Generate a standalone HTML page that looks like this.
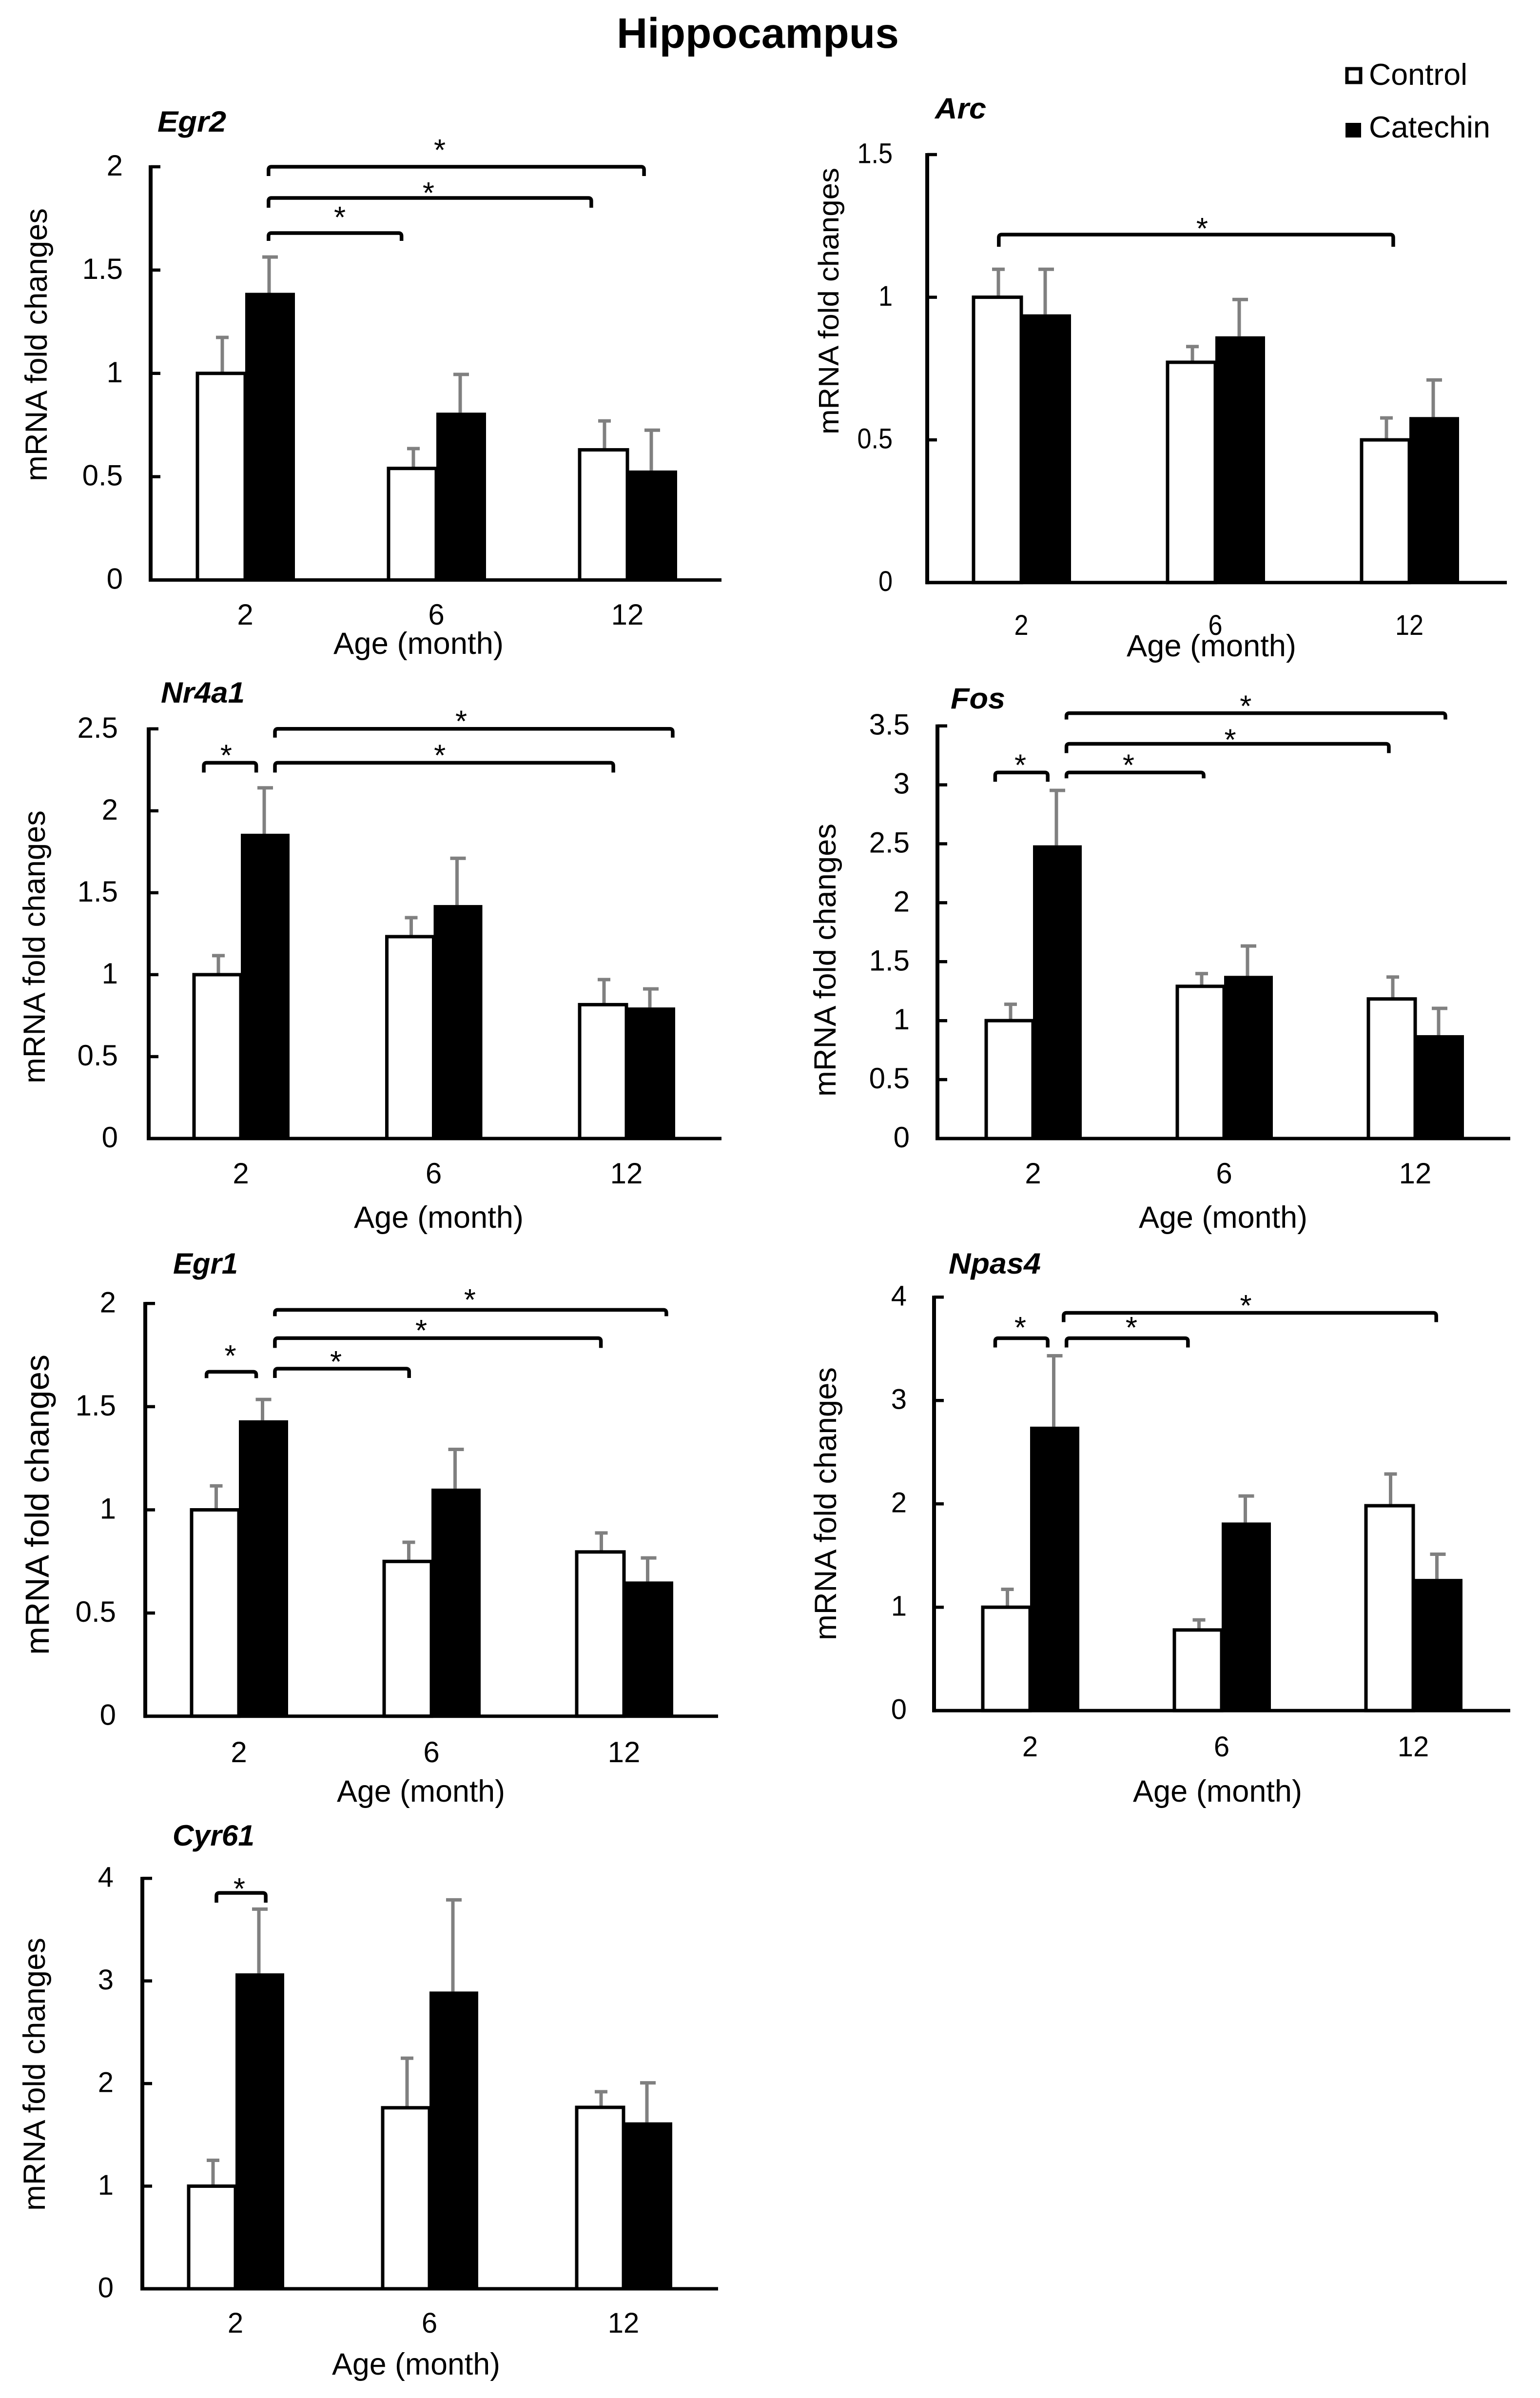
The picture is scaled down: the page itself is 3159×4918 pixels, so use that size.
<!DOCTYPE html>
<html lang="en">
<head>
<meta charset="utf-8">
<title>Hippocampus mRNA fold changes</title>
<style>
html,body{margin:0;padding:0;background:#fff;}
svg{display:block;font-family:"Liberation Sans",Arial,sans-serif;}
</style>
</head>
<body>
<svg id="figure" xmlns="http://www.w3.org/2000/svg" width="3159" height="4918" viewBox="0 0 3159 4918">
  <rect x="0" y="0" width="3159" height="4918" fill="#fff"/>
  <text x="1265" y="98" font-size="87" font-weight="bold" textLength="579" lengthAdjust="spacingAndGlyphs">Hippocampus</text>
  <g>
    <rect x="2763" y="141" width="28" height="28" fill="#fff" stroke="#000" stroke-width="7"/>
    <text x="2808" y="174" font-size="62" textLength="202" lengthAdjust="spacingAndGlyphs">Control</text>
    <rect x="2760" y="252" width="32" height="30" fill="#000"/>
    <text x="2808" y="282" font-size="62" textLength="249" lengthAdjust="spacingAndGlyphs">Catechin</text>
  </g>
</svg>
<script>
// ---- shared categories ----
const months = ['2', '6', '12'];

// ---- Egr2 ----
const egr2Control = [1, 0.54, 0.63];
const egr2ControlErr = [0.174, 0.096, 0.14];
const egr2Catechin = [1.39, 0.81, 0.53];
const egr2CatechinErr = [0.173, 0.185, 0.195];
const egr2Ticks = ['0', '0.5', '1', '1.5', '2'];

// ---- Arc ----
const arcControl = [1, 0.772, 0.5];
const arcControlErr = [0.098, 0.055, 0.077];
const arcCatechin = [0.94, 0.863, 0.58];
const arcCatechinErr = [0.158, 0.129, 0.13];
const arcTicks = ['0', '0.5', '1', '1.5'];

// ---- Nr4a1 ----
const nr4a1Control = [1, 1.232, 0.817];
const nr4a1ControlErr = [0.116, 0.116, 0.153];
const nr4a1Catechin = [1.86, 1.425, 0.8];
const nr4a1CatechinErr = [0.28, 0.285, 0.113];
const nr4a1Ticks = ['0', '0.5', '1', '1.5', '2', '2.5'];

// ---- Fos ----
const fosControl = [1, 1.291, 1.184];
const fosControlErr = [0.139, 0.108, 0.186];
const fosCatechin = [2.487, 1.38, 0.877];
const fosCatechinErr = [0.466, 0.253, 0.227];
const fosTicks = ['0', '0.5', '1', '1.5', '2', '2.5', '3', '3.5'];

// ---- Egr1 ----
const egr1Control = [1, 0.75, 0.796];
const egr1ControlErr = [0.116, 0.093, 0.092];
const egr1Catechin = [1.434, 1.103, 0.653];
const egr1CatechinErr = [0.101, 0.19, 0.114];
const egr1Ticks = ['0', '0.5', '1', '1.5', '2'];

// ---- Npas4 ----
const npas4Control = [1, 0.78, 1.982];
const npas4ControlErr = [0.173, 0.097, 0.307];
const npas4Catechin = [2.747, 1.82, 1.274];
const npas4CatechinErr = [0.686, 0.256, 0.239];
const npas4Ticks = ['0', '1', '2', '3', '4'];

// ---- Cyr61 ----
const cyr61Control = [1, 1.764, 1.768];
const cyr61ControlErr = [0.252, 0.483, 0.152];
const cyr61Catechin = [3.074, 2.897, 1.622];
const cyr61CatechinErr = [0.626, 0.893, 0.385];
const cyr61Ticks = ['0', '1', '2', '3', '4'];

// ---- significance brackets, in axis units (category position, value) ----
const egr2Brackets = [
  {x1: 0.122, x2: 2.087, y: 2, drop: 19, sx: 1.018, sy: 2.101},
  {x1: 0.122, x2: 1.811, y: 1.849, drop: 20, sx: 0.959, sy: 1.894},
  {x1: 0.122, x2: 0.818, y: 1.679, drop: 16, sx: 0.495, sy: 1.776}
];
const arcBrackets = [
  {x1: -0.116, x2: 1.917, y: 1.2195, drop: 25, sx: 0.932, sy: 1.256}
];
const nr4a1Brackets = [
  {x1: 0.177, x2: 2.24, y: 2.5, drop: 18, sx: 1.143, sy: 2.573},
  {x1: 0.177, x2: 1.932, y: 2.293, drop: 20, sx: 1.032, sy: 2.364},
  {x1: -0.192, x2: 0.08, y: 2.293, drop: 20, sx: -0.076, sy: 2.364}
];
const fosBrackets = [
  {x1: 0.175, x2: 2.158, y: 3.608, drop: 13, sx: 1.113, sy: 3.703},
  {x1: 0.175, x2: 1.862, y: 3.348, drop: 19, sx: 1.032, sy: 3.418},
  {x1: 0.175, x2: 0.893, y: 3.105, drop: 12, sx: 0.5, sy: 3.203},
  {x1: -0.198, x2: 0.077, y: 3.105, drop: 19, sx: -0.066, sy: 3.203}
];
const egr1Brackets = [
  {x1: 0.187, x2: 2.22, y: 1.969, drop: 13, sx: 1.2, sy: 2.038},
  {x1: 0.187, x2: 1.88, y: 1.832, drop: 20, sx: 0.947, sy: 1.89},
  {x1: 0.187, x2: 0.884, y: 1.684, drop: 19, sx: 0.504, sy: 1.738},
  {x1: -0.168, x2: 0.09, y: 1.669, drop: 13, sx: -0.044, sy: 1.767}
];
const npas4Brackets = [
  {x1: 0.175, x2: 2.12, y: 3.848, drop: 19, sx: 1.126, sy: 3.96},
  {x1: 0.19, x2: 0.824, y: 3.603, drop: 19, sx: 0.529, sy: 3.747},
  {x1: -0.182, x2: 0.092, y: 3.603, drop: 19, sx: -0.051, sy: 3.747}
];
const cyr61Brackets = [
  {x1: -0.098, x2: 0.156, y: 3.858, drop: 20, sx: 0.02, sy: 3.94}
];

// ---- panel layout ----
const panels = [
  {id: 'egr2', gene: 'Egr2', control: egr2Control, controlErr: egr2ControlErr, catechin: egr2Catechin, catechinErr: egr2CatechinErr, ticks: egr2Ticks, brackets: egr2Brackets,
   axisX: 309, yTop: 342, yBase: 1189.5, xEnd: 1480, yMax: 2, g0: 403, step: 392, bw: 100,
   tickFs: 60, tickSx: 1, tickRight: 252, xLabelY: 1281,
   xTitle: {x: 684, len: 349, y: 1341}, yTitle: {x: 96, bottom: 987, len: 560, fs: 63},
   title: {x: 323, len: 141, y: 270}},
  {id: 'arc', gene: 'Arc', control: arcControl, controlErr: arcControlErr, catechin: arcCatechin, catechinErr: arcCatechinErr, ticks: arcTicks, brackets: arcBrackets,
   axisX: 1902, yTop: 317, yBase: 1194.7, xEnd: 3091, yMax: 1.5, g0: 1995, step: 398, bw: 100,
   tickFs: 58, tickSx: 0.9, tickRight: 1831, xLabelY: 1302,
   xTitle: {x: 2311, len: 348, y: 1346}, yTitle: {x: 1720, bottom: 891, len: 547, fs: 58},
   title: {x: 1918, len: 105, y: 243}},
  {id: 'nr4a1', gene: 'Nr4a1', control: nr4a1Control, controlErr: nr4a1ControlErr, catechin: nr4a1Catechin, catechinErr: nr4a1CatechinErr, ticks: nr4a1Ticks, brackets: nr4a1Brackets,
   axisX: 305, yTop: 1494.8, yBase: 2335, xEnd: 1480, yMax: 2.5, g0: 396, step: 395.5, bw: 98,
   tickFs: 60, tickSx: 1, tickRight: 242, xLabelY: 2427,
   xTitle: {x: 726, len: 348, y: 2518}, yTitle: {x: 92, bottom: 2222, len: 560, fs: 63},
   title: {x: 330, len: 172, y: 1441}},
  {id: 'fos', gene: 'Fos', control: fosControl, controlErr: fosControlErr, catechin: fosCatechin, catechinErr: fosCatechinErr, ticks: fosTicks, brackets: fosBrackets,
   axisX: 1923, yTop: 1488.7, yBase: 2335, xEnd: 3098, yMax: 3.5, g0: 2021, step: 392, bw: 98,
   tickFs: 60, tickSx: 1, tickRight: 1866, xLabelY: 2427,
   xTitle: {x: 2336, len: 346, y: 2518}, yTitle: {x: 1714, bottom: 2249, len: 560, fs: 63},
   title: {x: 1950, len: 112, y: 1453}},
  {id: 'egr1', gene: 'Egr1', control: egr1Control, controlErr: egr1ControlErr, catechin: egr1Catechin, catechinErr: egr1CatechinErr, ticks: egr1Ticks, brackets: egr1Brackets,
   axisX: 298, yTop: 2673.3, yBase: 3519.7, xEnd: 1473, yMax: 2, g0: 391, step: 395, bw: 99,
   tickFs: 60, tickSx: 1, tickRight: 238, xLabelY: 3614,
   xTitle: {x: 691, len: 345, y: 3695}, yTitle: {x: 100, bottom: 3394, len: 616, fs: 69},
   title: {x: 355, len: 133, y: 2612}},
  {id: 'npas4', gene: 'Npas4', control: npas4Control, controlErr: npas4ControlErr, catechin: npas4Catechin, catechinErr: npas4CatechinErr, ticks: npas4Ticks, brackets: npas4Brackets,
   axisX: 1916, yTop: 2660.3, yBase: 3508.2, xEnd: 3098, yMax: 4, g0: 2014, step: 393, bw: 99,
   tickFs: 58, tickSx: 1, tickRight: 1860, xLabelY: 3602,
   xTitle: {x: 2324, len: 347, y: 3695}, yTitle: {x: 1715, bottom: 3364, len: 560, fs: 63},
   title: {x: 1946, len: 189, y: 2612}},
  {id: 'cyr61', gene: 'Cyr61', control: cyr61Control, controlErr: cyr61ControlErr, catechin: cyr61Catechin, catechinErr: cyr61CatechinErr, ticks: cyr61Ticks, brackets: cyr61Brackets,
   axisX: 292, yTop: 3852.2, yBase: 4694, xEnd: 1473, yMax: 4, g0: 385, step: 398, bw: 98,
   tickFs: 58, tickSx: 1, tickRight: 233, xLabelY: 4784,
   xTitle: {x: 681, len: 345, y: 4870}, yTitle: {x: 92, bottom: 4534, len: 560, fs: 63},
   title: {x: 354, len: 168, y: 3785}}
];

const SVG_NS = 'http://www.w3.org/2000/svg';
const figure = document.getElementById('figure');
const ERR_COLOR = '#808080';

function shape(parent, tag, attrs, content) {
  const node = document.createElementNS(SVG_NS, tag);
  for (const key in attrs) node.setAttribute(key, attrs[key]);
  if (content !== undefined) node.textContent = content;
  parent.appendChild(node);
  return node;
}

function drawPanel(p) {
  const yScale = v => p.yBase - (v / p.yMax) * (p.yBase - p.yTop);
  const groupLeft = i => p.g0 + i * p.step;
  const catCenter = c => p.g0 + p.bw + c * p.step;

  const g = shape(figure, 'g', {});
  
  

  // error bars sit behind the bars
  const drawErr = (lineX, capX, capHalf, value, err, series, i) => {
    const top = yScale(value + err);
    const line = shape(g, 'line', {x1: lineX, x2: lineX, y1: yScale(value), y2: top, stroke: ERR_COLOR, 'stroke-width': 7});
    
    
    const cap = shape(g, 'line', {x1: capX - capHalf, x2: capX + capHalf, y1: top, y2: top, stroke: ERR_COLOR, 'stroke-width': 7});
    
    
  };

  months.forEach((m, i) => {
    const left = groupLeft(i);
    const whiteMid = left + p.bw / 2 + 3;
    const blackMid = left + p.bw * 1.5 + 1;
    drawErr(whiteMid, whiteMid, 13, p.control[i], p.controlErr[i], 'control', i);
    drawErr(blackMid - 2, blackMid, 16, p.catechin[i], p.catechinErr[i], 'catechin', i);

    const yc = yScale(p.control[i]);
    const whiteBar = shape(g, 'rect', {x: left + 2, y: yc, width: p.bw - 2, height: p.yBase - yc, fill: '#fff', stroke: '#000', 'stroke-width': 7});
    
    

    const yk = yScale(p.catechin[i]);
    const blackBar = shape(g, 'rect', {x: left + p.bw, y: yk, width: p.bw + 2, height: p.yBase - yk, fill: '#000'});
    
    

    const label = shape(g, 'text', {transform: 'translate(' + catCenter(i) + ',' + p.xLabelY + ') scale(' + p.tickSx + ',1)', 'font-size': p.tickFs, 'text-anchor': 'middle'}, m);
    
    
  });

  // axes
  const yAxis = shape(g, 'line', {x1: p.axisX, x2: p.axisX, y1: p.yTop - 3, y2: p.yBase + 3.5, stroke: '#000', 'stroke-width': 8});
  
  
  const xAxis = shape(g, 'line', {x1: p.axisX - 2, x2: p.xEnd, y1: p.yBase, y2: p.yBase, stroke: '#000', 'stroke-width': 7});
  
  

  p.ticks.forEach(t => {
    const y = yScale(parseFloat(t));
    const tick = shape(g, 'line', {x1: p.axisX, x2: p.axisX + 20, y1: y, y2: y, stroke: '#000', 'stroke-width': 6.5});
    
    
    const label = shape(g, 'text', {transform: 'translate(' + p.tickRight + ',' + (y + p.tickFs * 0.3) + ') scale(' + p.tickSx + ',1)', 'font-size': p.tickFs, 'text-anchor': 'end'}, t);
    
    
  });

  // titles
  const geneTitle = shape(g, 'text', {x: p.title.x, y: p.title.y, 'font-size': 60, 'font-weight': 'bold', 'font-style': 'italic', textLength: p.title.len, lengthAdjust: 'spacingAndGlyphs'}, p.gene);
  
  

  const xTitle = shape(g, 'text', {x: p.xTitle.x, y: p.xTitle.y, 'font-size': 63, textLength: p.xTitle.len, lengthAdjust: 'spacingAndGlyphs'}, 'Age (month)');
  
  

  const yTitle = shape(g, 'text', {transform: 'translate(' + p.yTitle.x + ',' + p.yTitle.bottom + ') rotate(-90)', 'font-size': p.yTitle.fs, textLength: p.yTitle.len, lengthAdjust: 'spacingAndGlyphs'}, 'mRNA fold changes');
  
  

  // significance brackets
  p.brackets.forEach((b, k) => {
    const x1 = catCenter(b.x1);
    const x2 = catCenter(b.x2);
    const y = yScale(b.y);
    const d = 'M' + x1 + ' ' + (y + b.drop) + 'V' + (y + 6) + 'Q' + x1 + ' ' + y + ' ' + (x1 + 6) + ' ' + y +
              'H' + (x2 - 6) + 'Q' + x2 + ' ' + y + ' ' + x2 + ' ' + (y + 6) + 'V' + (y + b.drop);
    const bracket = shape(g, 'path', {d: d, fill: 'none', stroke: '#000', 'stroke-width': 7.5});
    
    
    const star = shape(g, 'text', {x: catCenter(b.sx), y: yScale(b.sy) + 30, 'font-size': 62, 'text-anchor': 'middle'}, '*');
    
    
  });
}

panels.forEach(drawPanel);
</script>
</body>
</html>
